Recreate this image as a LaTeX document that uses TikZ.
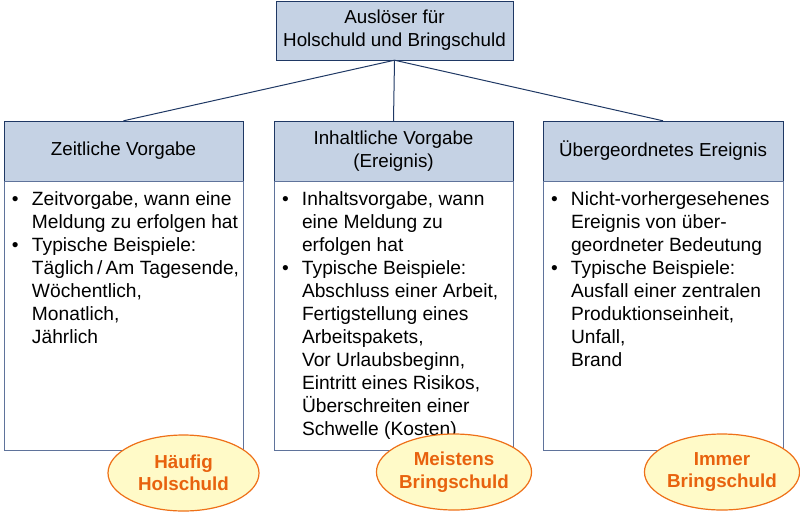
\documentclass[tikz,border=0pt]{standalone}
\usepackage{fontspec}
\setmainfont{Liberation Sans}
\usetikzlibrary{positioning, shapes.geometric}
\definecolor{kopfblau}{RGB}{197,210,228}
\definecolor{randblau}{RGB}{31,56,100}
\definecolor{rumpfrand}{RGB}{95,115,155}
\definecolor{ovalgelb}{RGB}{255,250,200}
\definecolor{ovalrand}{RGB}{238,112,24}
\definecolor{ovaltext}{RGB}{232,98,14}
\newcommand{\pkt}{\makebox[20pt][l]{\textbullet}}
\newcommand{\ein}{\hspace*{20pt}}
\tikzset{
  kopf/.style={draw=randblau, fill=kopfblau, minimum width=239pt, minimum height=60pt, align=center, inner sep=0pt},
  rumpf/.style={draw=rumpfrand, minimum width=239pt, minimum height=269pt, anchor=north, inner sep=0pt},
  liste/.style={align=left, inner sep=0pt, anchor=north west, font=\fontsize{19.2}{23}\selectfont},
  oval/.style={ellipse, draw=ovalrand, line width=1.2pt, fill=ovalgelb, text=ovaltext, font=\fontsize{18.8}{22.5}\selectfont\bfseries, minimum width=151pt, minimum height=76pt, inner sep=0pt, align=center}
}

\begin{document}
\begin{tikzpicture}[x=1pt, y=-1pt, font=\fontsize{18.8}{23}\selectfont]
\useasboundingbox (0,0) rectangle (800,512);
\node[kopf, minimum width=237pt, minimum height=59pt] (wurzel) at (394.5,30.5) {Auslöser für\\Holschuld und Bringschuld};
% drei Spalten
\node[kopf] (zeit) at (123.5,151) {Zeitliche Vorgabe};
\node[kopf] (inhalt) at (393.5,151) {Inhaltliche Vorgabe\\(Ereignis)};
\node[kopf, minimum width=240pt] (ereignis) at (663,151) {Übergeordnetes Ereignis};
\node[rumpf] (zeitrumpf) at (zeit.south) {};
\node[rumpf] (inhaltrumpf) at (inhalt.south) {};
\node[rumpf, minimum width=240pt] (ereignisrumpf) at (ereignis.south) {};
\foreach \k in {zeit,inhalt,ereignis} \draw[randblau, line width=1pt] (wurzel.south) -- (\k.north);
\node[liste, below right=8pt and 8pt of zeitrumpf.north west] (zeitliste) {\strut\pkt Zeitvorgabe, wann eine\\
\ein Meldung zu erfolgen hat\\
\pkt Typische Beispiele:\\
\ein Täglich\,/\,Am Tagesende,\\
\ein Wöchentlich,\\
\ein Monatlich,\\
\ein Jährlich};
\node[liste, below right=8pt and 8pt of inhaltrumpf.north west] (inhaltliste) {\strut\pkt Inhaltsvorgabe, wann\\
\ein eine Meldung zu\\
\ein erfolgen hat\\
\pkt Typische Beispiele:\\
\ein Abschluss einer Arbeit,\\
\ein Fertigstellung eines\\
\ein Arbeitspakets,\\
\ein Vor Urlaubsbeginn,\\
\ein Eintritt eines Risikos,\\
\ein Überschreiten einer\\
\ein Schwelle (Kosten)};
\node[liste, below right=8pt and 8pt of ereignisrumpf.north west] (ereignisliste) {\strut\pkt Nicht-vorhergesehenes\\
\ein Ereignis von über-\\
\ein geordneter Bedeutung\\
\pkt Typische Beispiele:\\
\ein Ausfall einer zentralen\\
\ein Produktionseinheit,\\
\ein Unfall,\\
\ein Brand};
% Bewertung
\node[oval] (haeufig) at (183.5,473) {Häufig\\Holschuld};
\node[oval] (meistens) at (454,472) {Meistens\\Bringschuld};
\node[oval] (immer) at (722,472) {Immer\\Bringschuld};
\end{tikzpicture}
\end{document}
